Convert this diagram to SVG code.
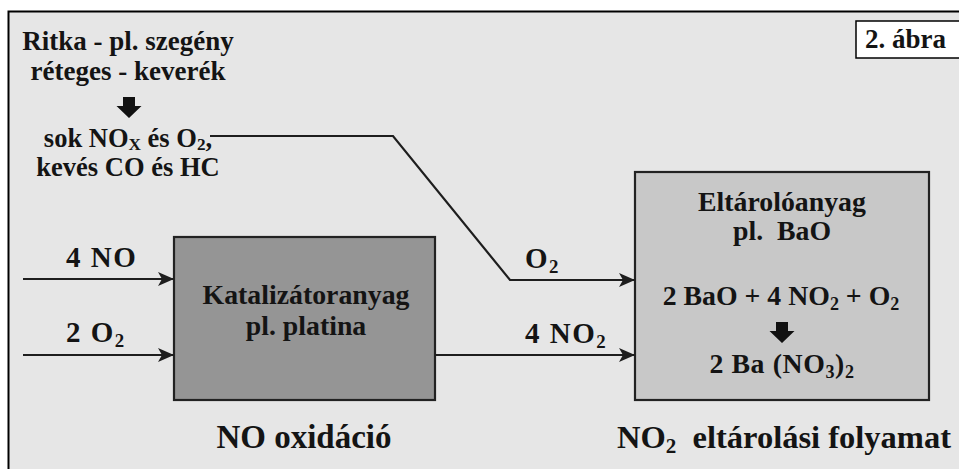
<svg xmlns="http://www.w3.org/2000/svg" width="959" height="469" viewBox="0 0 959 469">
<style>
text{font-family:'Liberation Serif','Times New Roman','DejaVu Serif',serif;font-weight:700;fill:#141414}
.t26{font-size:26.5px}
.t27{font-size:27px}
.t28{font-size:27.8px}
.t33{font-size:33px}
.lbl{font-size:29px;letter-spacing:1.5px}
.mid{text-anchor:middle}
.sub{font-size:65%}
.conn{fill:none;stroke:#1e1e1e;stroke-width:2.2}
.box{stroke:#222;stroke-width:2.2}
</style>
<defs>
<marker id="ah" viewBox="0 0 16 14" refX="16" refY="7" markerWidth="16" markerHeight="14" markerUnits="userSpaceOnUse" orient="auto">
<path d="M0,0 L16,7 L0,14 L4,7 Z" fill="#1e1e1e"/>
</marker>
<path id="fat" d="M-6,0 H6 V9 H12.5 L0,21 L-12.5,9 H-6 Z" fill="#111"/>
</defs>
<rect x="0" y="0" width="959" height="469" fill="#fff"/>
<rect x="8.5" y="11.5" width="960" height="470" fill="#e6e6e6" stroke="#000" stroke-width="2"/>

<g id="label-abra">
<rect x="856" y="21" width="110" height="37" fill="#fff" stroke="#000" stroke-width="1.5"/>
<text class="t27" x="865" y="48">2. ábra</text>
</g>

<g id="source">
<text class="t27 mid" x="128" y="50">Ritka - pl. szegény</text>
<text class="t27 mid" x="128" y="80">réteges - keverék</text>
<use href="#fat" x="129" y="97"/>
<text class="t26 mid" x="128" y="147">sok NO<tspan class="sub" dy="3">X</tspan><tspan dy="-3"> és O</tspan><tspan class="sub" dy="3">2</tspan><tspan dy="-3">,</tspan></text>
<text class="t26 mid" x="128" y="176">kevés CO és HC</text>
</g>

<g id="catalyst">
<rect class="box" x="174" y="237" width="261" height="163" fill="#959595"/>
<text class="t28 mid" x="306" y="304">Katalizátoranyag</text>
<text class="t28 mid" x="306" y="335">pl. platina</text>
</g>

<g id="storage">
<rect class="box" x="635" y="172" width="294" height="228" fill="#c8c8c8"/>
<text class="t28 mid" x="782" y="211">Eltárolóanyag</text>
<text class="t28 mid" x="782" y="240" xml:space="preserve">pl.  BaO</text>
<text class="t28 mid" x="781" y="305">2 BaO + 4 NO<tspan class="sub" dy="5">2</tspan><tspan dy="-5"> + O</tspan><tspan class="sub" dy="5">2</tspan></text>
<use href="#fat" x="782" y="322"/>
<text class="t28 mid" x="782" y="373" style="letter-spacing:0.6px">2 Ba (NO<tspan class="sub" dy="5">3</tspan><tspan dy="-5">)</tspan><tspan class="sub" dy="5">2</tspan></text>
</g>

<g id="captions">
<text class="t33 mid" x="304" y="448">NO oxidáció</text>
<text class="t33" x="617" y="448" xml:space="preserve" style="font-size:32.5px">NO<tspan class="sub" dy="5">2</tspan><tspan dy="-5">  eltárolási folyamat</tspan></text>
</g>

<g id="connectors">
<path class="conn" d="M210,136 H393 L510,280 H635" marker-end="url(#ah)"/>
<path class="conn" d="M23,279 H174" marker-end="url(#ah)"/>
<path class="conn" d="M23,355 H174" marker-end="url(#ah)"/>
<path class="conn" d="M435,355 H635" marker-end="url(#ah)"/>
</g>

<g id="connector-labels">
<text class="lbl" x="66" y="267">4 NO</text>
<text class="lbl" x="66" y="342">2 O<tspan class="sub" dy="5">2</tspan></text>
<text class="lbl" x="525" y="268">O<tspan class="sub" dy="5">2</tspan></text>
<text class="lbl" x="525" y="343">4 NO<tspan class="sub" dy="5">2</tspan></text>
</g>
</svg>
